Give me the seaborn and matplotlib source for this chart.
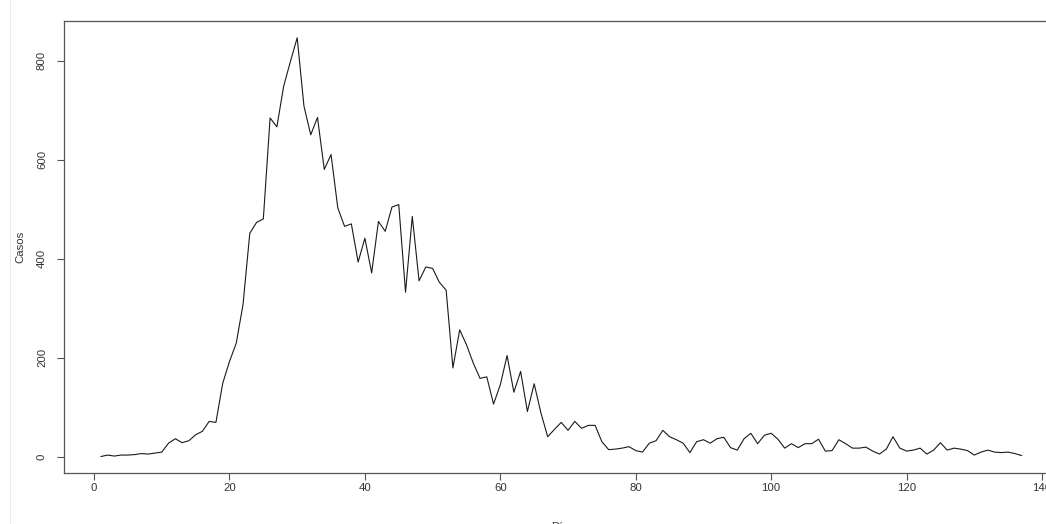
import matplotlib
matplotlib.use("Agg")
import matplotlib.pyplot as plt
from matplotlib.lines import Line2D
import seaborn as sns
import pandas as pd

# Daily case counts, day 1 .. 137
dias = list(range(1, 138))
casos = [
    0, 3, 1, 3, 3, 4, 6, 5, 7, 9,
    27, 36, 28, 32, 44, 51, 71, 69, 148, 192,
    229, 307, 451, 473, 480, 684, 666, 748, 798, 846,
    708, 650, 685, 580, 610, 502, 465, 470, 393, 441,
    371, 475, 455, 504, 509, 332, 485, 355, 383, 380,
    352, 336, 179, 256, 226, 189, 158, 161, 106, 145,
    204, 130, 172, 91, 147, 88, 40, 55, 69, 53,
    71, 57, 63, 63, 30, 14, 15, 17, 20, 12,
    9, 27, 32, 53, 40, 34, 27, 8, 30, 34,
    27, 36, 39, 18, 13, 36, 47, 26, 43, 47,
    35, 17, 26, 18, 26, 26, 35, 11, 12, 34,
    26, 17, 17, 19, 11, 5, 15, 40, 17, 11,
    13, 17, 5, 13, 28, 13, 17, 15, 12, 3,
    9, 13, 9, 8, 9, 6, 2,
]
xticks = [0, 20, 40, 60, 80, 100, 120, 140]
yticks = [0, 200, 400, 600, 800]

df = pd.DataFrame({"Día": dias, "Casos": casos})

sns.set_style("white")
plt.rcParams["font.family"] = ["Liberation Sans", "DejaVu Sans"]

W, H = 1046, 524
fig = plt.figure(figsize=(W / 100, H / 100), dpi=100)
# plot region in pixels: left 64, right 1058.5 (runs past the edge), top 21, bottom 473.3
ax = fig.add_axes([64 / W, 1 - 473.3 / H, (1058.5 - 64) / W, (473.3 - 21) / H])

sns.lineplot(data=df, x="Día", y="Casos", ax=ax, color="#1a1a1a", linewidth=0.8)

# R-style 4% padding around the data range
xr = max(dias) - min(dias)
yr = max(casos) - min(casos)
ax.set_xlim(min(dias) - 0.04 * xr, max(dias) + 0.04 * xr)
ax.set_ylim(min(casos) - 0.04 * yr, max(casos) + 0.04 * yr)

ax.set_xticks(xticks)
ax.set_yticks(yticks)
ax.set_xticklabels([str(t) for t in xticks])
ax.set_yticklabels([str(t) for t in yticks], rotation=90, va="center")

for s in ax.spines.values():
    s.set_color("#555555")
    s.set_linewidth(0.9)

ax.tick_params(axis="both", which="major", direction="out", length=4.8, width=0.8,
               color="#555555", labelsize=8.2, labelcolor="#333333")
ax.tick_params(axis="x", pad=2.2, bottom=True)
ax.tick_params(axis="y", pad=7.5, left=True)

ax.set_xlabel("Día", fontsize=8.2, color="#333333")
ax.set_ylabel("Casos", fontsize=8.2, color="#333333")
ax.xaxis.set_label_coords((560 - 64) / (1058.5 - 64), -(522 - 473.3) / (473.3 - 21))
ax.yaxis.set_label_coords(-(64 - 25) / (1058.5 - 64), 0.5)

# thin pane separator on the far left
fig.add_artist(Line2D([10 / W, 10 / W], [0, 1], color="#ebebeb", linewidth=0.8))

fig.savefig("out.png", dpi=100)
